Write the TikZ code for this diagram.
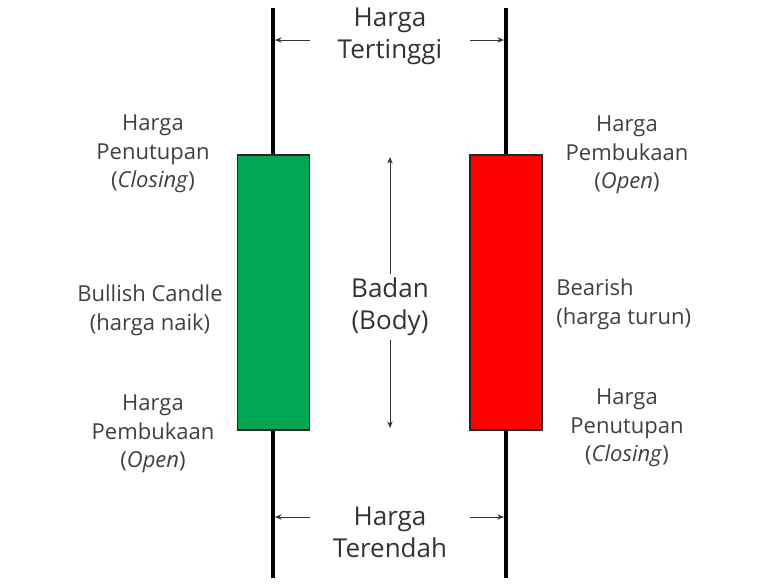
\documentclass[tikz,border=0pt]{standalone}
\usepackage{fontspec}
\setmainfont{Open Sans}
\usetikzlibrary{arrows.meta}
\definecolor{bull}{RGB}{0,166,81}
\definecolor{bear}{RGB}{255,0,0}
\begin{document}
\begin{tikzpicture}[x=0.75pt,y=-0.75pt,
  wick/.style={line width=2.4pt,black},
  candle/.style={draw=black!85,line width=1.4pt},
  lbl/.style={align=center,font=\fontsize{16.5}{21.5}\selectfont,text=black!75,inner sep=0pt},
  big/.style={align=center,font=\fontsize{19.5}{24}\selectfont,text=black!80,inner sep=0pt},
  arr/.style={-{Stealth[length=5pt,width=4pt]},line width=0.6pt,black!80}]
\useasboundingbox (0,0) rectangle (768,586);
\coordinate (lt) at (273,8); \coordinate (lb) at (273,578);
\coordinate (rt) at (506,8); \coordinate (rb) at (506,578);
\draw[wick] (lt) -- (lb);
\draw[wick] (rt) -- (rb);
\node[candle,fill=bull,minimum width=54pt,minimum height=206pt,inner sep=0pt] (g) at (273.5,292.5) {};
\node[candle,fill=bear,minimum width=54pt,minimum height=206pt,inner sep=0pt] (r) at (506,292.5) {};
\node[big] (top) at (390,36) {Harga\\Tertinggi};
\node[big] (bot) at (390,532) {Harga\\Terendah};
\coordinate (tl) at (275,40); \coordinate (tr) at (504,40);
\coordinate (tla) at (310,40); \coordinate (tra) at (470,40);
\draw[arr] (tla) -- (tl); \draw[arr] (tra) -- (tr);
\coordinate (bl) at (275,517); \coordinate (br) at (504,517);
\coordinate (bla) at (310,517); \coordinate (bra) at (470,517);
\draw[arr] (bla) -- (bl); \draw[arr] (bra) -- (br);
\coordinate (bt) at (390,157); \coordinate (bb) at (390,428);
\draw[arr,{Stealth[length=5pt,width=4pt]}-{Stealth[length=5pt,width=4pt]}] (bt) -- (bb);
\node[big,fill=white,inner sep=3pt] (body) at (390,307) {Badan\\(Body)};
\node[lbl] (lc) at (153,154) {Harga\\Penutupan\\(\textit{Closing})};
\node[lbl] (lm) at (150,310) {Bullish Candle\\(harga naik)};
\node[lbl] (lo) at (153,434) {Harga\\Pembukaan\\(\textit{Open})};
\node[lbl] (ro) at (627,155) {Harga\\Pembukaan\\(\textit{Open})};
\node[lbl,align=left,anchor=west] (rm) at (556,304) {Bearish\\(harga turun)};
\node[lbl] (rc) at (627,428) {Harga\\Penutupan\\(\textit{Closing})};
\end{tikzpicture}
\end{document}
